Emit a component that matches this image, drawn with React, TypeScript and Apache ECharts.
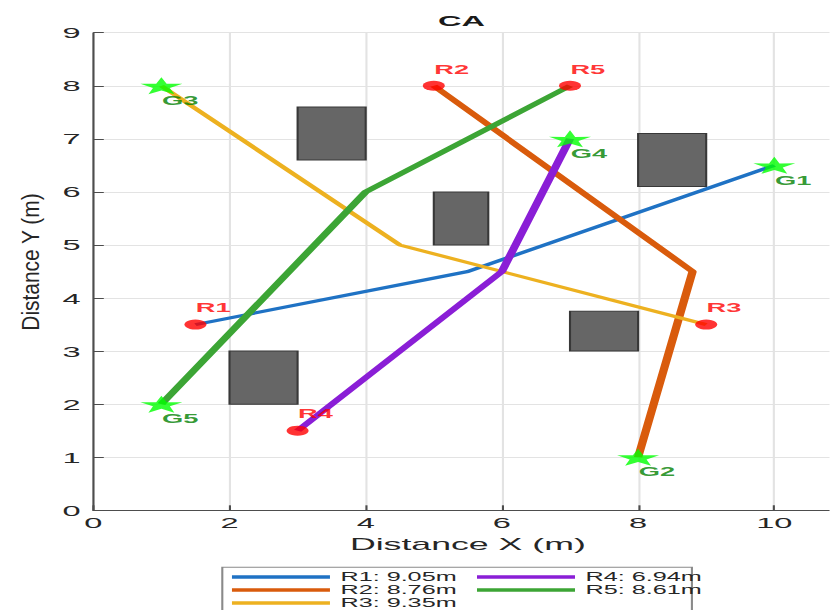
import { useEffect, useRef } from 'react';
import * as echarts from 'echarts';

// ---- data ----
const robotNames = ['R1', 'R2', 'R3', 'R4', 'R5'];
const goalNames = ['G1', 'G2', 'G3', 'G4', 'G5'];
const pathR1 = [[1.5, 3.5], [5.5, 4.5], [10, 6.5]];
const pathR2 = [[5, 8], [8.8, 4.5], [8, 1]];
const pathR3 = [[9, 3.5], [4.5, 5], [1, 8]];
const pathR4 = [[3, 1.5], [6, 4.5], [7, 7]];
const pathR5 = [[7, 8], [4, 6], [1, 2]];
const pathLengths = [9.05, 8.76, 9.35, 6.94, 8.61];
// obstacles as [x1, y1, x2, y2]
const obstacles = [
  [3, 6.6, 4, 7.6],
  [5, 5, 5.8, 6],
  [8, 6.1, 9, 7.1],
  [7, 3, 8, 3.75],
  [2, 2, 3, 3],
];
const xRange = [0, 11];
const yRange = [0, 9];

const paths = [pathR1, pathR2, pathR3, pathR4, pathR5];
const pathColors = ['#1f72c4', '#d95b0c', '#edb120', '#8a1ed6', '#3ca535'];
const pathWidths = [3, 4, 3, 4, 4];

// the figure is drawn narrow and widened horizontally
const STRETCH = 2.1;
const PAGE_W = 830;
const PAGE_H = 610;
const FONT = '"Liberation Sans", Arial, Helvetica, sans-serif';
const TEXT = '#262626';

const STAR =
  'path://M50,0 L61.8,35.1 L97.6,34.5 L69.1,56.7 L79.4,90.5 L50,70 L20.6,90.5 L30.9,56.7 L2.4,34.5 L38.2,35.1 Z';

const sx = (px: number) => px / STRETCH;

export default function App() {
  const ref = useRef<HTMLDivElement>(null);

  useEffect(() => {
    if (!ref.current) return;
    const chart = echarts.init(ref.current, undefined, { renderer: 'svg' });
    const seriesNames = robotNames.map((r, i) => `${r}: ${pathLengths[i].toFixed(2)}m`);

    const lineSeries = paths.map((p, i) => ({
      type: 'line',
      name: seriesNames[i],
      data: p,
      showSymbol: false,
      symbol: 'none',
      color: pathColors[i],
      lineStyle: { color: pathColors[i], width: pathWidths[i] },
      z: 3,
    }));

    const legendText = { fontSize: 12, color: TEXT, fontFamily: FONT, lineHeight: 13 };

    chart.setOption({
      animation: false,
      title: {
        text: 'CA',
        left: sx(461.5) - 11.2,
        top: 13,
        padding: 0,
        textStyle: { fontSize: 15.5, fontWeight: 'bold', color: '#1a1a1a', fontFamily: FONT },
      },
      grid: {
        left: sx(93.3),
        width: sx(842.4 - 93.3),
        top: 32.7,
        bottom: PAGE_H - 510.3,
        containLabel: false,
        outerBoundsMode: 'none',
      },
      xAxis: {
        type: 'value',
        min: xRange[0],
        max: xRange[1],
        interval: 2,
        name: 'Distance X (m)',
        nameLocation: 'middle',
        nameGap: 25,
        nameTextStyle: { fontSize: 17, color: TEXT, fontFamily: FONT },
        axisLine: { show: true, lineStyle: { color: '#4d4d4d', width: 1 } },
        axisTick: { show: true, inside: true, length: 5, lineStyle: { color: '#4d4d4d' } },
        axisLabel: {
          fontSize: 15.5,
          color: TEXT,
          fontFamily: FONT,
          margin: 4,
          showMaxLabel: false,
          formatter: (v: number) => (v % 2 === 0 && v <= 10 ? String(v) : ''),
        },
        splitLine: { show: true, lineStyle: { color: '#e3e3e3', width: 1 } },
      },
      yAxis: {
        type: 'value',
        min: yRange[0],
        max: yRange[1],
        interval: 1,
        axisLine: { show: true, lineStyle: { color: '#4d4d4d', width: 1 } },
        axisTick: { show: true, inside: true, length: 5, lineStyle: { color: '#4d4d4d' } },
        axisLabel: { fontSize: 15.5, color: TEXT, fontFamily: FONT, margin: 6 },
        splitLine: { show: true, lineStyle: { color: '#e3e3e3', width: 1 } },
      },
      legend: [
        {
          data: seriesNames.slice(0, 3).map((n) => ({ name: n, icon: 'rect' })),
          orient: 'vertical',
          left: sx(222.3),
          top: 567.3,
          height: 40,
          padding: [3.2, 112, 10, 4.6],
          itemGap: 0,
          itemWidth: sx(98),
          itemHeight: 3.5,
          backgroundColor: '#ffffff',
          borderColor: '#8a8a8a',
          borderWidth: 1,
          textStyle: legendText,
          selectedMode: false,
        },
        {
          data: seriesNames.slice(3).map((n) => ({ name: n, icon: 'rect' })),
          orient: 'vertical',
          left: sx(477),
          top: 570.5,
          padding: 0,
          itemGap: 0,
          itemWidth: sx(98),
          itemHeight: 3.5,
          textStyle: legendText,
          selectedMode: false,
        },
      ],
      graphic: [
        {
          type: 'text',
          x: sx(31.5),
          y: 262,
          rotation: Math.PI / 2,
          scaleX: 1.9,
          style: {
            text: 'Distance Y (m)',
            fontSize: 11,
            fontFamily: FONT,
            fill: TEXT,
            align: 'center',
            verticalAlign: 'middle',
            textAlign: 'center',
            textVerticalAlign: 'middle',
          },
        },
      ],
      series: [
        {
          type: 'custom',
          name: 'obstacles',
          data: obstacles,
          encode: { x: [0, 2], y: [1, 3] },
          z: 2,
          renderItem: (_params: any, api: any) => {
            const a = api.coord([api.value(0), api.value(3)]);
            const b = api.coord([api.value(2), api.value(1)]);
            return {
              type: 'rect',
              shape: { x: a[0], y: a[1], width: b[0] - a[0], height: b[1] - a[1] },
              style: { fill: '#666666', stroke: '#383838', lineWidth: 1 },
            };
          },
        },
        ...lineSeries,
        {
          type: 'scatter',
          name: 'starts',
          data: paths.map((p, i) => ({ name: robotNames[i], value: p[0] })),
          symbol: 'circle',
          symbolSize: [10.5, 10],
          itemStyle: { color: '#ff0000' },
          z: 5,
          label: {
            show: true,
            formatter: '{b}',
            position: 'top',
            distance: 5,
            offset: [8.5, 0],
            fontSize: 13,
            fontWeight: 'bold',
            color: '#ff0000',
            fontFamily: FONT,
          },
        },
        {
          type: 'scatter',
          name: 'goals',
          data: paths.map((p, i) => ({ name: goalNames[i], value: p[p.length - 1] })),
          symbol: STAR,
          symbolSize: [20, 17],
          itemStyle: { color: '#00ff00' },
          z: 5,
          label: {
            show: true,
            formatter: '{b}',
            position: 'bottom',
            distance: 5,
            offset: [9, -5],
            fontSize: 13,
            fontWeight: 'bold',
            color: '#008000',
            fontFamily: FONT,
          },
        },
      ],
    });

    return () => chart.dispose();
  }, []);

  return (
    <div
      style={{
        position: 'absolute',
        left: 0,
        top: 0,
        width: PAGE_W,
        height: PAGE_H,
        overflow: 'hidden',
        background: '#ffffff',
      }}
    >
      <div
        ref={ref}
        style={{
          width: PAGE_W / STRETCH,
          height: PAGE_H,
          transform: `scaleX(${STRETCH})`,
          transformOrigin: '0 0',
        }}
      />
    </div>
  );
}
